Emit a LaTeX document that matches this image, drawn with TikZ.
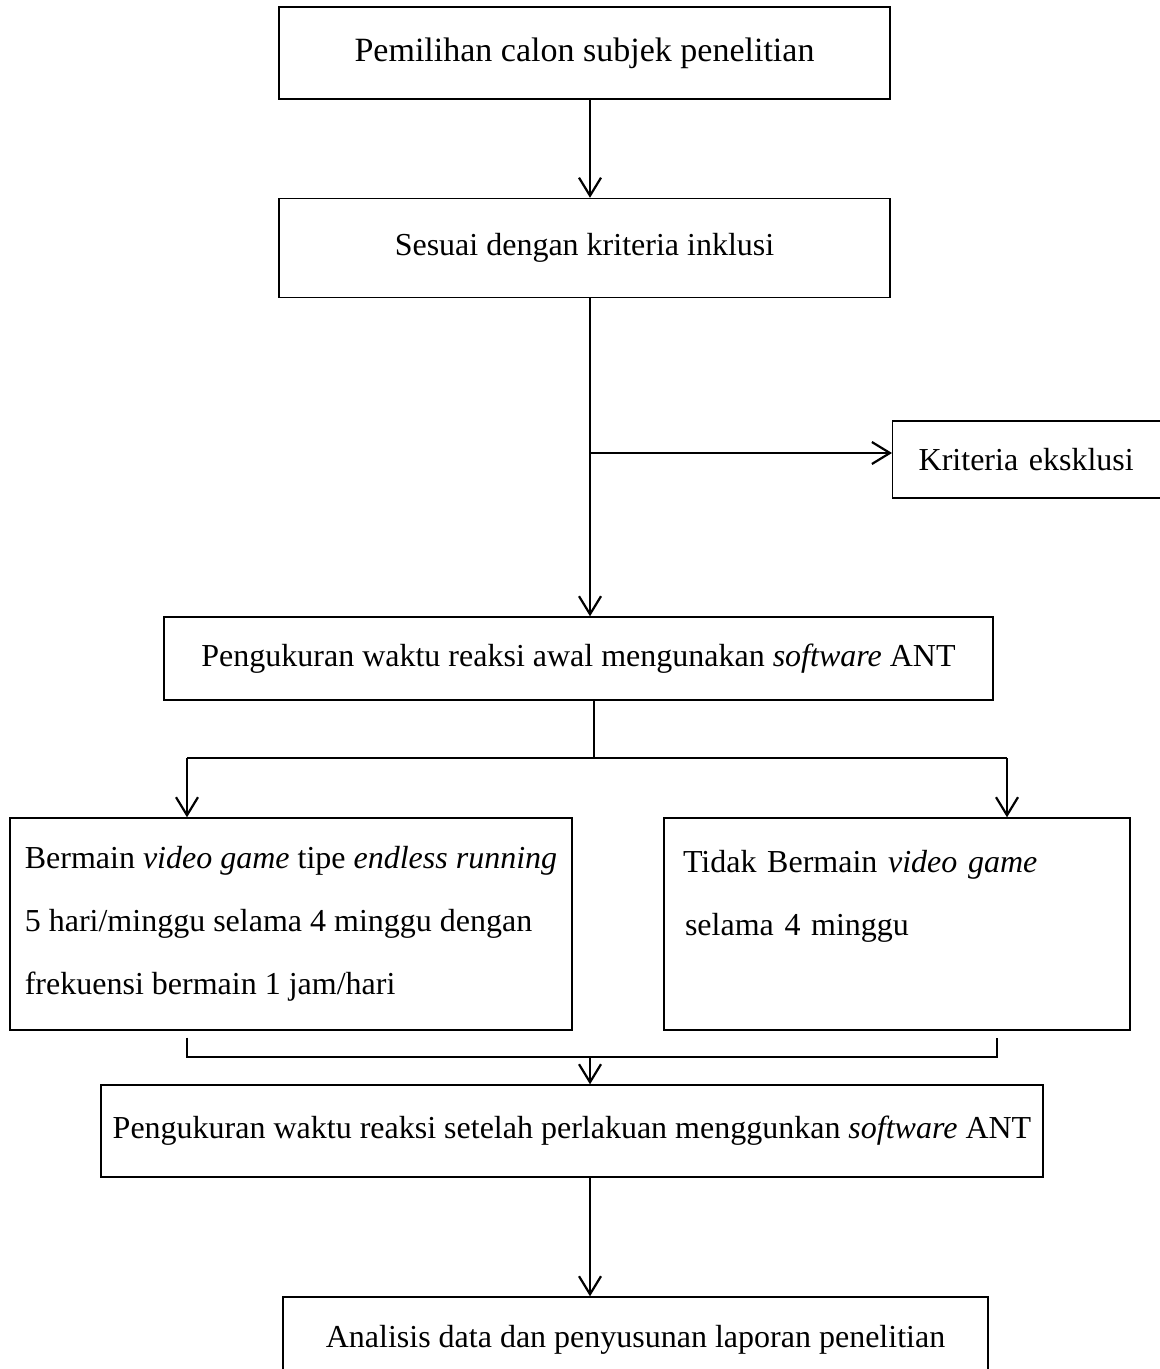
\documentclass[tikz,border=0pt]{standalone}
\usepackage{fontspec}
\setmainfont{Liberation Serif}
\usetikzlibrary{arrows.meta,positioning,calc}
\tikzset{
  box/.style={draw, line width=0.7pt, inner sep=0pt, font=\fontsize{16}{31.5}\selectfont},
  arr/.style={line width=1.1pt, -{Straight Barb[length=9pt,width=11pt]}},
  ln/.style={line width=1.1pt}
}

\begin{document}
\begin{tikzpicture}[x=0.5pt,y=-0.5pt]
  \clip (0,0) rectangle (1160,1369);
  % boxes
  \node[box, font=\fontsize{17}{31.5}\selectfont, minimum width=305.5pt, minimum height=46pt] (pilih) at (584.5,53) {Pemilihan calon subjek penelitian};
  \node[box, minimum width=305.5pt, minimum height=49.5pt] (sesuai) at (584.5,248) {Sesuai dengan kriteria inklusi};
  \node[box, anchor=west, inner xsep=13pt, text width=125pt, align=left, minimum height=38.5pt] (eks) at (892,459.5) {Kriteria eksklusi};
  \node[box, minimum width=414.5pt, minimum height=41.5pt] (awal) at (578.5,658.5) {Pengukuran waktu reaksi awal mengunakan \textit{software} ANT};
  \node[box, minimum width=281pt, minimum height=106pt, align=left] (main) at (291,924)
    {Bermain \textit{video game} tipe \textit{endless running}\\ 5 hari/minggu selama 4 minggu dengan\\ frekuensi bermain 1 jam/hari};
  \node[box, minimum width=233pt, minimum height=106pt, text width=214pt, align=left] (kontrol) at (897,924)
    {Tidak Bermain \textit{video game}\\ \hspace{1pt}selama 4 minggu\\ \mbox{}};
  \node[box, minimum width=471pt, minimum height=46pt] (akhir) at (572,1131) {Pengukuran waktu reaksi setelah perlakuan menggunkan \textit{software} ANT};
  \node[box, minimum width=352.5pt, minimum height=43pt] (analisis) at (635.5,1340) {Analisis data dan penyusunan laporan penelitian};

  % connectors
  \coordinate (trunk) at (590,0);
  \coordinate (split) at (590,453);
  \coordinate (fork) at (594,758);
  \coordinate (bl) at (187,758);
  \coordinate (br) at (1007,758);
  \coordinate (jl) at (187,1057);
  \coordinate (jr) at (997,1057);
  \coordinate (join) at (590,1057);
  \draw[arr] (pilih.south -| trunk) -- (sesuai.north -| trunk);
  \draw[arr] (sesuai.south -| trunk) -- (awal.north -| trunk);
  \draw[arr] (split) -- (split -| eks.west);
  \draw[ln] (awal.south -| fork) -- (fork);
  \draw[ln] (bl) -- (br);
  \draw[arr] (bl) -- (bl |- main.north);
  \draw[arr] (br) -- (br |- kontrol.north);
  \draw[ln] ($(main.south -| jl)+(0,7)$) -- (jl) -- (jr) -- ($(kontrol.south -| jr)+(0,7)$);
  \draw[arr] (join) -- (join |- akhir.north);
  \draw[arr] (akhir.south -| trunk) -- (analisis.north -| trunk);
\end{tikzpicture}
\end{document}
